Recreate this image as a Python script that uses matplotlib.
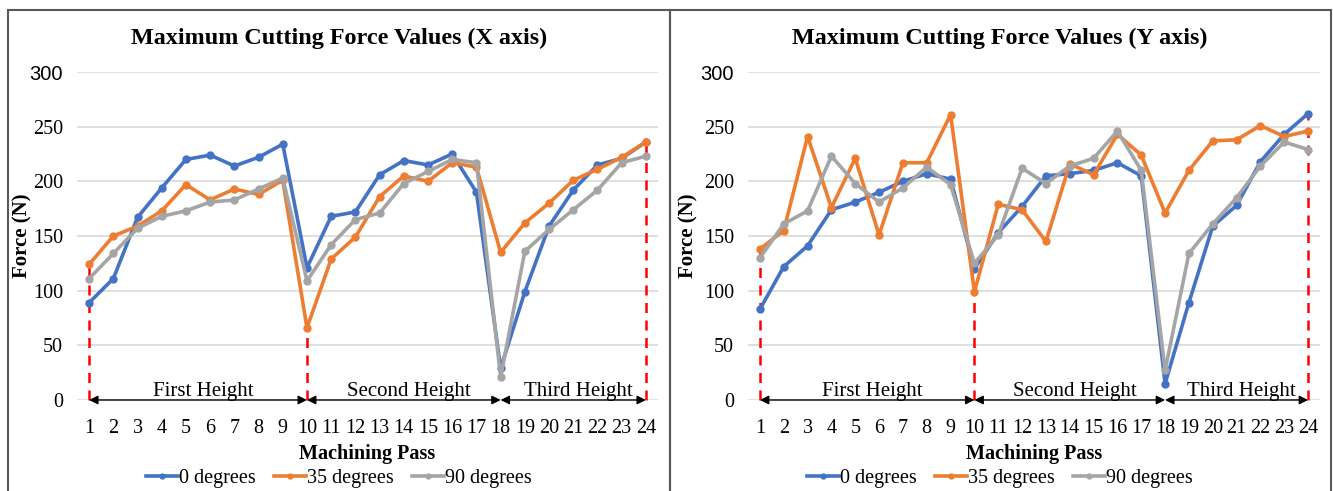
import matplotlib.pyplot as plt
from matplotlib.patches import Rectangle

plt.rcParams['font.family'] = ['Liberation Serif', 'DejaVu Serif']

# data
passes = list(range(1, 25))
series_names = ['0 degrees', '35 degrees', '90 degrees']
colors = ['#4472C4', '#ED7D31', '#A5A5A5']

x_0deg = [89, 111, 167, 194, 220, 224, 214, 222, 234, 121, 168, 172,
          206, 219, 215, 225, 190, 29, 99, 159, 192, 215, 221, 236]
x_35deg = [124, 150, 159, 173, 197, 183, 193, 188, 201, 66, 129, 149,
           186, 205, 200, 217, 213, 135, 162, 180, 201, 211, 222, 236]
x_90deg = [111, 134, 157, 168, 173, 181, 183, 193, 203, 109, 142, 165,
           171, 198, 209, 220, 217, 21, 136, 156, 174, 192, 217, 223]

y_0deg = [83, 122, 141, 174, 181, 190, 200, 207, 202, 120, 153, 177,
          205, 207, 210, 217, 205, 15, 89, 159, 178, 218, 243, 262]
y_35deg = [138, 155, 241, 176, 221, 151, 217, 217, 261, 99, 179, 174,
           145, 216, 206, 243, 224, 171, 210, 237, 238, 251, 241, 246]
y_90deg = [130, 161, 173, 223, 198, 181, 194, 213, 197, 125, 151, 212,
           198, 214, 221, 246, 210, 27, 134, 161, 185, 214, 236, 229]

titles = ['Maximum Cutting Force Values (X axis)', 'Maximum Cutting Force Values (Y axis)']
section_bounds = [1, 10, 18, 24]
section_names = ['First Height', 'Second Height', 'Third Height']
red_x = [1, 10, 24]
red_top_x = [123, 66, 236]
red_top_y = [138, 99, 262]
yticks = [0, 50, 100, 150, 200, 250, 300]

W, H = 1333, 491
fig = plt.figure(figsize=(W / 100, H / 100), dpi=100)

# chart area borders (Excel style)
for x0, x1 in [(8, 670), (670, 1331)]:
    fig.add_artist(Rectangle((x0 / W, -0.1), (x1 - x0) / W, (H - 10) / H + 0.1,
                             transform=fig.transFigure, fill=False,
                             edgecolor='#595959', lw=1.5))

panels = [
    dict(left=77, right=658, data=[x_0deg, x_35deg, x_90deg], tops=red_top_x,
         title=titles[0], cx=339, ylab_x=22),
    dict(left=748, right=1320, data=[y_0deg, y_35deg, y_90deg], tops=red_top_y,
         title=titles[1], cx=1000, ylab_x=688),
]

for p in panels:
    ax = fig.add_axes([p['left'] / W, (H - 400) / H, (p['right'] - p['left']) / W, 328 / H])
    for vals, name, c in zip(p['data'], series_names, colors):
        ax.plot(passes, vals, color=c, lw=2.6, marker='o', ms=5, label=name, zorder=3)

    ax.set_xlim(0.5, 24.5)
    ax.set_ylim(0, 300)
    ax.set_xticks(passes)
    ax.set_yticks(yticks)
    ax.tick_params(length=0, labelsize=14.5, pad=14)
    ax.tick_params(axis='y', pad=10)
    ax.grid(axis='y', color='#D9D9D9', lw=1.2)
    ax.set_axisbelow(True)
    for s in ax.spines.values():
        s.set_visible(False)
    # the top label looks like Calibri in the original
    ax.get_yticklabels()[-1].set_fontfamily(['Liberation Sans', 'DejaVu Sans'])

    ax.set_xlabel('Machining Pass', fontsize=14.5, fontweight='bold', labelpad=4)
    fig.text(p['ylab_x'] / W, (H - 236) / H, 'Force (N)', rotation=90, fontsize=15,
             fontweight='bold', ha='center', va='center')
    fig.text(p['cx'] / W, (H - 38) / H, p['title'], fontsize=17.4, fontweight='bold',
             ha='center', va='center')

    # red dashed markers
    for xv, top in zip(red_x, p['tops']):
        ax.plot([xv, xv], [0, top], color='red', ls=(0, (4, 3)), lw=1.8, zorder=2,
                clip_on=False)

    # height sections with double arrows
    for a, b, name in zip(section_bounds[:-1], section_bounds[1:], section_names):
        ax.annotate('', xy=(b, 0), xytext=(a, 0),
                    arrowprops=dict(arrowstyle='<|-|>', color='black', lw=1,
                                    mutation_scale=13, shrinkA=0, shrinkB=0),
                    annotation_clip=False, zorder=4)
        ax.text((a + b) / 2 + 0.2, 4, name, fontsize=15, ha='center', va='baseline',
                zorder=4)

    ax_w = p['right'] - p['left']
    ax.legend(loc='center', bbox_to_anchor=((p['cx'] - p['left']) / ax_w, -0.24),
              ncol=3, frameon=False, fontsize=14.5, handlelength=1.6, handletextpad=0.05,
              columnspacing=0.9, markerscale=0.7)

fig.savefig('out.png', dpi=100)
